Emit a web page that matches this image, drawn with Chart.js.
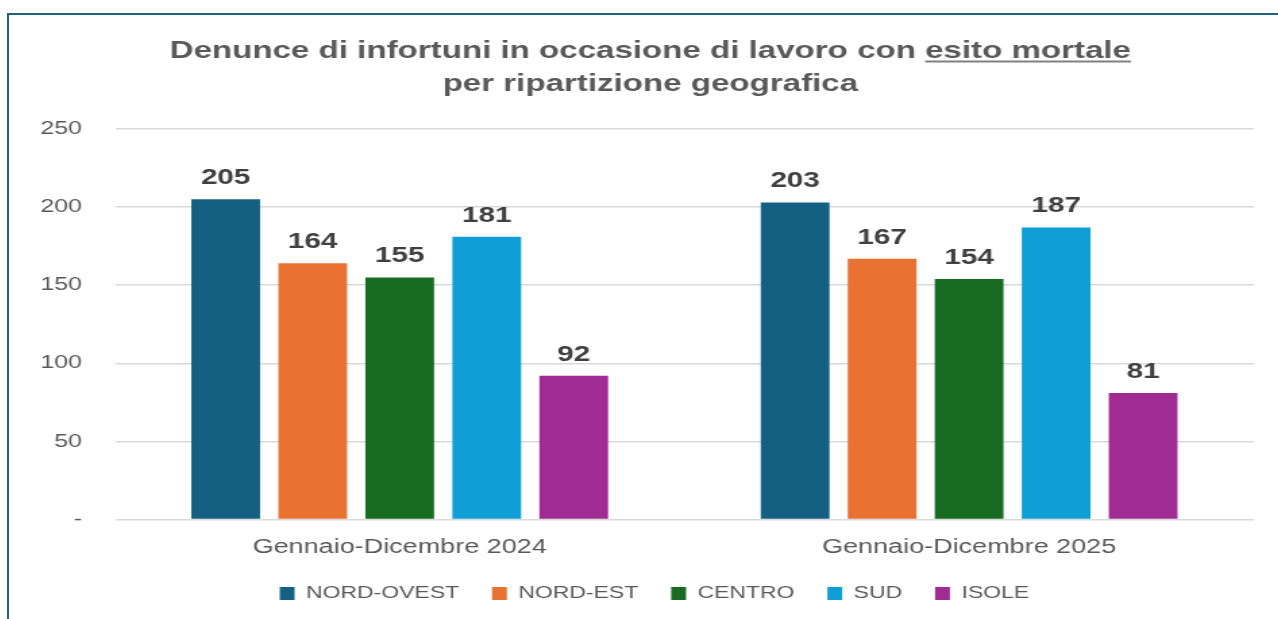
<!DOCTYPE html>
<html>
<head>
<meta charset="utf-8">
<script src="https://cdn.jsdelivr.net/npm/chart.js@4"></script>
<style>
    html, body { margin: 0; padding: 0; background: #fff; overflow: hidden; }
    .frame {
        position: absolute;
        left: 7px;
        top: 13px;
        border-left: 2px solid #21627e;
        border-top: 2px solid #21627e;
    }
    #myChart { display: block; }
</style>
</head>
<body>
<div class="frame">
    <!-- the original picture is stretched sideways, so the canvas is too -->
    <canvas id="myChart" width="951" height="609" style="width:1284px;height:609px"></canvas>
</div>
<script>
// data
var categories = ['Gennaio-Dicembre 2024', 'Gennaio-Dicembre 2025'];
var regions = ['NORD-OVEST', 'NORD-EST', 'CENTRO', 'SUD', 'ISOLE'];
var nordOvest = [205, 203];
var nordEst = [164, 167];
var centro = [155, 154];
var sud = [181, 187];
var isole = [92, 81];
var yMax = 250;
var yStep = 50;

var titleLine1 = 'Denunce di infortuni in occasione di lavoro con ';
var titleUnderlined = 'esito mortale';
var titleLine2 = 'per ripartizione geografica';

var colors = ['#156082', '#e97132', '#196b24', '#0f9ed5', '#a02b93'];
var series = [nordOvest, nordEst, centro, sud, isole];

var textGray = '#595959';
var fontFamily = '"Liberation Sans", Arial, sans-serif';

// title, with the underline on "esito mortale"
var titlePlugin = {
    id: 'titleDraw',
    afterDraw: function(chart) {
        var ctx = chart.ctx;
        var cx = 475;
        ctx.save();
        ctx.font = 'bold 24.5px ' + fontFamily;
        ctx.fillStyle = textGray;
        ctx.textBaseline = 'alphabetic';
        ctx.textAlign = 'left';
        var full = titleLine1 + titleUnderlined;
        var w = ctx.measureText(full).width;
        var x0 = cx - w / 2;
        ctx.fillText(full, x0, 43);
        var pre = ctx.measureText(titleLine1).width;
        ctx.strokeStyle = '#808080';
        ctx.lineWidth = 2;
        ctx.beginPath();
        ctx.moveTo(x0 + pre, 46.5);
        ctx.lineTo(x0 + w, 46.5);
        ctx.stroke();
        ctx.textAlign = 'center';
        ctx.fillText(titleLine2, cx, 76);
        ctx.restore();
    }
};

// value labels above the bars
var valuePlugin = {
    id: 'values',
    afterDatasetsDraw: function(chart) {
        var ctx = chart.ctx;
        ctx.save();
        ctx.font = 'bold 22px ' + fontFamily;
        ctx.fillStyle = '#404040';
        ctx.textAlign = 'center';
        ctx.textBaseline = 'alphabetic';
        chart.data.datasets.forEach(function(ds, i) {
            chart.getDatasetMeta(i).data.forEach(function(bar, j) {
                ctx.fillText(ds.data[j], bar.x, bar.y - 15);
            });
        });
        ctx.restore();
    }
};

// legend sits a bit right of the plot centre and closer to the axis
var legendShift = {
    id: 'legendShift',
    afterLayout: function(chart) {
        var lg = chart.legend;
        lg.left += 17;
        lg.right += 17;
        lg.top -= 7;
        lg.bottom -= 7;
    }
};

var ctx = document.getElementById('myChart').getContext('2d');

var myChart = new Chart(ctx, {
    type: 'bar',
    data: {
        labels: categories,
        datasets: regions.map(function(name, i) {
            return {
                label: name,
                data: series[i],
                backgroundColor: colors[i],
                categoryPercentage: 0.764,
                barPercentage: 0.79
            };
        })
    },
    options: {
        responsive: false,
        animation: false,
        layout: {
            padding: { top: 114, left: 0, right: 29, bottom: 5 }
        },
        plugins: {
            title: { display: false },
            tooltip: { enabled: false },
            legend: {
                position: 'bottom',
                labels: {
                    boxWidth: 11,
                    boxHeight: 13,
                    padding: 24.4,
                    color: textGray,
                    font: { family: fontFamily, size: 17 }
                }
            }
        },
        scales: {
            x: {
                grid: { display: false },
                border: { display: false },
                ticks: {
                    color: textGray,
                    padding: 8,
                    font: { family: fontFamily, size: 20 }
                }
            },
            y: {
                min: 0,
                max: yMax,
                border: { display: false },
                grid: { color: '#d9d9d9', lineWidth: 1.5, drawTicks: false },
                ticks: {
                    stepSize: yStep,
                    color: textGray,
                    padding: 24.4,
                    font: { family: fontFamily, size: 18.5 },
                    callback: function(v) { return v === 0 ? '-' : v; }
                },
                afterFit: function(scale) { scale.width = 78.5; }
            }
        }
    },
    plugins: [titlePlugin, valuePlugin, legendShift]
});
</script>
</body>
</html>
